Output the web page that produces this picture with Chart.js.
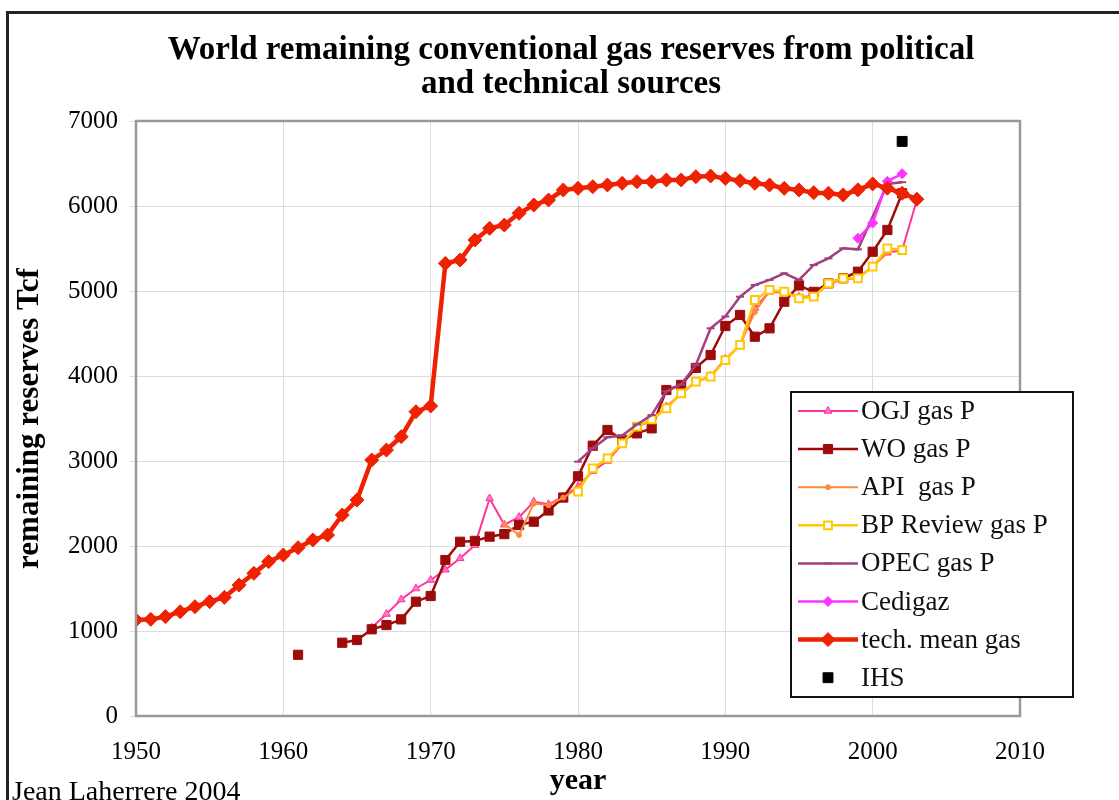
<!DOCTYPE html>
<html>
<head>
<meta charset="utf-8">
<script src="https://cdn.jsdelivr.net/npm/chart.js@4/dist/chart.umd.min.js"></script>
<style>
  html, body { margin: 0; padding: 0; background: #fff; overflow: hidden; }
  #wrap { position: relative; width: 1119px; height: 800px; overflow: hidden; }
  #frame { position: absolute; left: 6px; top: 11px; width: 1300px; height: 900px;
           border-left: 3px solid #222; border-top: 3px solid #222; }
  #title { position: absolute; left: 0; top: 31px; width: 1142px; text-align: center;
           font: bold 33px "Liberation Serif", serif; line-height: 34px; color: #000; }
  #credit { position: absolute; left: 12px; top: 777px; font: 28px "Liberation Serif", serif;
            line-height: 28px; color: #000; white-space: nowrap; }
  canvas { position: absolute; left: 0; top: 0; }
</style>
</head>
<body>
<div id="wrap">
  <div id="frame"></div>
  <canvas id="gas" width="1119" height="800"></canvas>
  <div id="title">World remaining conventional gas reserves from political<br>and technical sources</div>
  <div id="credit">Jean Laherrere 2004</div>
</div>
<script>
// years 1950..2003, every series aligned on them (null = no value)
const years = [1950, 1951, 1952, 1953, 1954, 1955, 1956, 1957, 1958, 1959,
               1960, 1961, 1962, 1963, 1964, 1965, 1966, 1967, 1968, 1969,
               1970, 1971, 1972, 1973, 1974, 1975, 1976, 1977, 1978, 1979,
               1980, 1981, 1982, 1983, 1984, 1985, 1986, 1987, 1988, 1989,
               1990, 1991, 1992, 1993, 1994, 1995, 1996, 1997, 1998, 1999,
               2000, 2001, 2002, 2003];

const ogj = [null, null, null, null, null, null, null, null, null, null,
             null, null, null, null, null, null, 1040, 1200, 1370, 1500,
             1600, 1720, 1855, 2010, 2560, 2250, 2340, 2520, 2490, 2580,
             2700, 2880, 3000, 3200, 3400, 3480, 3640, 3790, 3930, 4000,
             4200, 4360, 4800, 4990, 4980, 4930, 4940, 5080, 5140, 5150,
             5290, 5450, 5480, 6070];

const wo = [null, null, null, null, null, null, null, null, null, null,
            null, 720, null, null, 862, 894, 1020, 1070, 1137, 1345,
            1412, 1835, 2050, 2060, 2110, 2140, 2247, 2286, 2418, 2570,
            2820, 3180, 3365, 3250, 3325, 3384, 3835, 3895, 4095, 4247,
            4588, 4718, 4462, 4561, 4874, 5065, 4990, 5090, 5150, 5227,
            5462, 5718, 6150, null];

const api = [null, null, null, null, null, null, null, null, null, null,
             null, null, null, null, null, null, null, null, null, null,
             null, null, null, null, null, 2260, 2130, 2500, 2480, 2570,
             2680, 2900, 3020, 3210, 3400, 3490, 3620, 3800, 3930, 3990,
             4190, 4370, 4750, 5000, 4990, 4920, 4930, 5090, 5150, 5150,
             5290, 5450, null, null];

const bp = [null, null, null, null, null, null, null, null, null, null,
            null, null, null, null, null, null, null, null, null, null,
            null, null, null, null, null, null, null, null, null, null,
            2640, 2914, 3031, 3208, 3404, 3490, 3620, 3796, 3933, 3992,
            4188, 4365, 4894, 5012, 4992, 4914, 4933, 5090, 5149, 5149,
            5286, 5502, 5482, null];

const opec = [null, null, null, null, null, null, null, null, null, null,
              null, null, null, null, null, null, null, null, null, null,
              null, null, null, null, null, null, null, null, null, null,
              2992, 3150, 3280, 3300, 3430, 3540, 3820, 3900, 4130, 4561,
              4700, 4933, 5070, 5130, 5208, 5130, 5306, 5384, 5502, 5490,
              null, 6260, 6280, null];

const cedigaz = [null, null, null, null, null, null, null, null, null, null,
                 null, null, null, null, null, null, null, null, null, null,
                 null, null, null, null, null, null, null, null, null, null,
                 null, null, null, null, null, null, null, null, null, null,
                 null, null, null, null, null, null, null, null, null, 5620,
                 5800, 6290, 6380, null];

const techMean = [1130, 1137, 1169, 1227, 1286, 1345, 1396, 1541, 1678, 1816,
                  1894, 1980, 2071, 2129, 2365, 2541, 3012, 3129, 3286, 3580,
                  3647, 5325, 5365, 5600, 5737, 5776, 5914, 6012, 6071, 6188,
                  6208, 6227, 6247, 6267, 6286, 6286, 6306, 6306, 6345, 6353,
                  6325, 6298, 6267, 6247, 6208, 6188, 6157, 6150, 6130, 6190,
                  6260, 6210, 6150, 6080];

const ihsYears = [2002];
const ihs = [6760];

const xTicks = [1950, 1960, 1970, 1980, 1990, 2000, 2010];
const yTicks = [0, 1000, 2000, 3000, 4000, 5000, 6000, 7000];

const serif = '"Liberation Serif", "Times New Roman", serif';

function pts(xs, vals) {
  return vals.map((v, i) => ({ x: xs[i], y: v }));
}

// marker for the hand drawn legend
function marker(c, style, x, y, r, fill, stroke, lw) {
  c.save();
  c.fillStyle = fill;
  c.strokeStyle = stroke;
  c.lineWidth = lw;
  c.beginPath();
  if (style === 'triangle') {
    c.moveTo(x, y - r);
    c.lineTo(x + r * 0.87, y + r * 0.5);
    c.lineTo(x - r * 0.87, y + r * 0.5);
    c.closePath();
  } else if (style === 'rect') {
    const s = r * Math.SQRT1_2;
    c.rect(x - s, y - s, 2 * s, 2 * s);
  } else if (style === 'rectRot') {
    c.moveTo(x, y - r); c.lineTo(x + r, y); c.lineTo(x, y + r); c.lineTo(x - r, y);
    c.closePath();
  } else if (style === 'line') {
    c.moveTo(x - r, y); c.lineTo(x + r, y);
    c.stroke(); c.restore(); return;
  } else {
    c.arc(x, y, r, 0, Math.PI * 2);
  }
  c.fill();
  if (lw > 0) c.stroke();
  c.restore();
}

const boxAndLegend = {
  id: 'boxAndLegend',
  afterDatasetsDraw(chart) {
    const c = chart.ctx;
    const a = chart.chartArea;
    c.save();
    c.strokeStyle = '#999';
    c.lineWidth = 2.5;
    c.strokeRect(a.left, a.top, a.right - a.left, a.bottom - a.top);
    c.restore();
  },
  afterDraw(chart) {
    const c = chart.ctx;
    const L = { x: 791, y: 392, w: 282, h: 305 };
    c.save();
    c.fillStyle = '#fff';
    c.fillRect(L.x, L.y, L.w, L.h);
    c.strokeStyle = '#111';
    c.lineWidth = 2;
    c.strokeRect(L.x, L.y, L.w, L.h);
    c.font = '27px ' + serif;
    c.textBaseline = 'middle';
    c.textAlign = 'left';
    chart.data.datasets.forEach((ds, i) => {
      const y = 411 + i * 38.1;
      if (ds.showLine !== false) {
        c.strokeStyle = ds.borderColor;
        c.lineWidth = ds.borderWidth;
        c.beginPath();
        c.moveTo(798, y);
        c.lineTo(858, y);
        c.stroke();
      }
      marker(c, ds.pointStyle, 828, y, ds.pointRadius, ds.pointBackgroundColor,
             ds.pointBorderColor, ds.pointBorderWidth);
      c.fillStyle = '#111';
      c.fillText(ds.label, 861, y + 1);
    });
    c.restore();
  }
};

const ctx = document.getElementById('gas').getContext('2d');

new Chart(ctx, {
  type: 'line',
  data: {
    datasets: [
      { label: 'OGJ gas P', data: pts(years, ogj), borderColor: '#FF3399', borderWidth: 2,
        pointStyle: 'triangle', pointRadius: 4.5, pointBackgroundColor: '#FF77C8',
        pointBorderColor: '#FF3399', pointBorderWidth: 1, order: 7 },
      { label: 'WO gas P', data: pts(years, wo), borderColor: '#9E0B0B', borderWidth: 2.5,
        pointStyle: 'rect', pointRadius: 6.5, pointBackgroundColor: '#9E0B0B',
        pointBorderColor: '#9E0B0B', pointBorderWidth: 1, order: 6 },
      { label: 'API  gas P', data: pts(years, api), borderColor: '#FF8A3D', borderWidth: 2,
        pointStyle: 'circle', pointRadius: 2.5, pointBackgroundColor: '#FF8A3D',
        pointBorderColor: '#FF8A3D', pointBorderWidth: 1, order: 5 },
      { label: 'BP Review gas P', data: pts(years, bp), borderColor: '#FFC800', borderWidth: 2.5,
        pointStyle: 'rect', pointRadius: 5.5, pointBackgroundColor: '#FFFFFF',
        pointBorderColor: '#FFC800', pointBorderWidth: 2, order: 4 },
      { label: 'OPEC gas P', data: pts(years, opec), borderColor: '#A2407F', borderWidth: 2.5,
        pointStyle: 'line', pointRadius: 4, pointBackgroundColor: '#A2407F',
        pointBorderColor: '#A2407F', pointBorderWidth: 2, spanGaps: true, order: 3 },
      { label: 'Cedigaz', data: pts(years, cedigaz), borderColor: '#FF33FF', borderWidth: 2.5,
        pointStyle: 'rectRot', pointRadius: 5, pointBackgroundColor: '#FF33FF',
        pointBorderColor: '#FF33FF', pointBorderWidth: 1, order: 2 },
      { label: 'tech. mean gas', data: pts(years, techMean), borderColor: '#EE2200', borderWidth: 4.5,
        pointStyle: 'rectRot', pointRadius: 7, pointBackgroundColor: '#EE2200',
        pointBorderColor: '#EE2200', pointBorderWidth: 1, order: 1 },
      { label: 'IHS', data: pts(ihsYears, ihs), showLine: false, borderColor: '#000', borderWidth: 0,
        pointStyle: 'rect', pointRadius: 7, pointBackgroundColor: '#000',
        pointBorderColor: '#000', pointBorderWidth: 1, order: 0 }
    ]
  },
  options: {
    responsive: false,
    animation: false,
    spanGaps: false,
    layout: { padding: { top: 121, right: 99, left: 0, bottom: 0 } },
    plugins: { legend: { display: false }, tooltip: { enabled: false } },
    scales: {
      x: {
        type: 'linear', min: 1950, max: 2010,
        afterBuildTicks: s => { s.ticks = xTicks.map(v => ({ value: v })); },
        afterFit: s => { s.height = 84; },
        ticks: { padding: 21, color: '#000', font: { family: serif, size: 25 },
                 callback: v => String(v), maxRotation: 0 },
        grid: { color: '#dcdcdc', lineWidth: 1, drawTicks: false },
        border: { display: false },
        title: { display: true, text: 'year', color: '#000',
                 font: { family: serif, size: 30, weight: 'bold' },
                 padding: { top: 0, bottom: 1 } }
      },
      y: {
        min: 0, max: 7000,
        afterBuildTicks: s => { s.ticks = yTicks.map(v => ({ value: v })); },
        afterFit: s => { s.width = 136; },
        ticks: { padding: 12, color: '#000', font: { family: serif, size: 25 },
                 callback: v => String(v) },
        grid: { color: '#dcdcdc', lineWidth: 1, tickLength: 6 },
        border: { display: false },
        title: { display: true, text: 'remaining reserves Tcf', color: '#000',
                 font: { family: serif, size: 31, weight: 'bold' },
                 padding: { top: 11, bottom: 0 } }
      }
    }
  },
  plugins: [boxAndLegend]
});
</script>
</body>
</html>
